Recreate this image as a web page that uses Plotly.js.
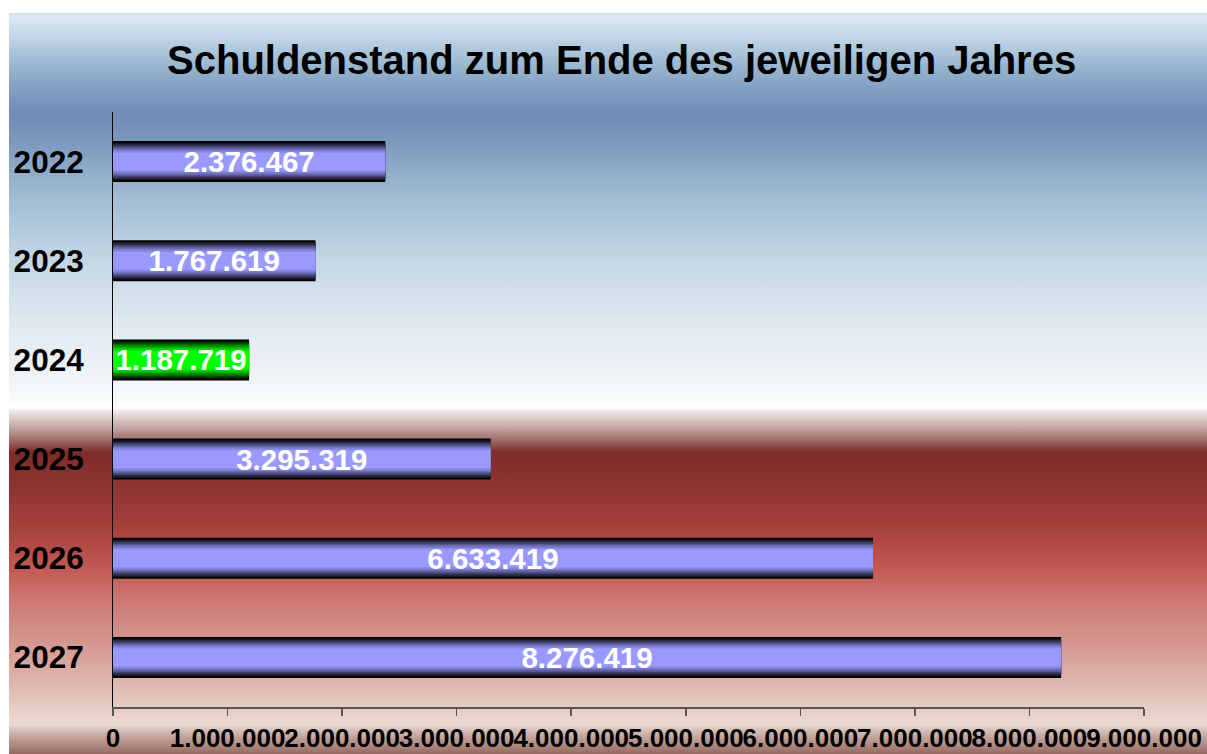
<!DOCTYPE html>
<html>
<head>
<meta charset="utf-8">
<script src="https://cdn.plot.ly/plotly-3.0.1.min.js"></script>
<style>
  html, body { margin: 0; padding: 0; background: #ffffff; }
  #bg {
    position: absolute; left: 9px; top: 13px; width: 1198px; height: 741px;
    background: linear-gradient(to bottom,
      #cddcea 0px, #dde9f5 3px, #bdd2e3 27px, #93b2cc 57px, #7d9abf 82px,
      #728bb6 102px, #7b98bd 127px, #a2bed4 187px, #c4d6e4 247px,
      #dde8ef 307px, #edf2f6 357px, #f8fafb 387px, #ffffff 395px,
      #f3eded 397px, #dccbc9 405px, #c2a4a1 415px, #a77472 425px,
      #8f4e4b 433px, #7e2c29 439px, #8f3632 477px, #a8423e 517px,
      #c25a55 557px, #cd7872 587px, #d4948e 627px, #deb4ab 667px,
      #e7cfc7 697px, #ecdbd3 712px, #dccac2 715px, #c0a097 725px, #966b63 741px);
  }
  #chart { position: absolute; left: 0; top: 0; width: 1207px; height: 754px; }
</style>
</head>
<body>
<div id="bg"></div>
<div id="chart"></div>
<script>
// ---- data ----
const years = ['2022', '2023', '2024', '2025', '2026', '2027'];
const debt = [2376467, 1767619, 1187719, 3295319, 6633419, 8276419];
const highlightYear = '2024';
const xTickValues = [0, 1000000, 2000000, 3000000, 4000000, 5000000, 6000000, 7000000, 8000000, 9000000];
const chartTitle = 'Schuldenstand zum Ende des jeweiligen Jahres';

// ---- styling ----
const FONT = 'Liberation Sans, Arial, sans-serif';
const baseBlue = [153, 153, 255];
const baseGreen = [0, 255, 0];
const categoryPx = 595 / years.length;
// gradient layers: [half thickness px, brightness fraction]
const layers = [
  [20.5, 0.0], [18.8, 0.14], [17.4, 0.28], [16.0, 0.42], [14.6, 0.56],
  [13.2, 0.69], [11.8, 0.81], [10.3, 0.91], [8.8, 1.0]
];

function fmt(v) {
  return String(v).replace(/\B(?=(\d{3})+(?!\d))/g, '.');
}
function mix(base, f) {
  return 'rgb(' + base.map(c => Math.round(c * f)).join(',') + ')';
}

const traces = layers.map((L, i) => {
  const last = i === layers.length - 1;
  const t = {
    type: 'bar',
    orientation: 'h',
    y: years,
    x: debt,
    width: (2 * L[0]) / categoryPx,
    marker: {
      color: years.map(y => mix(y === highlightYear ? baseGreen : baseBlue, L[1])),
      line: { width: 0 }
    },
    hoverinfo: 'skip',
    showlegend: false
  };
  if (last) {
    t.text = debt.map(fmt);
    t.textposition = 'inside';
    t.insidetextanchor = 'middle';
    t.constraintext = 'none';
    t.cliponaxis = false;
    t.textfont = { family: FONT, size: 29.5, color: '#ffffff', weight: 'bold' };
  } else {
    t.textposition = 'none';
  }
  return t;
});

const layout = {
  width: 1207,
  height: 754,
  paper_bgcolor: 'rgba(0,0,0,0)',
  plot_bgcolor: 'rgba(0,0,0,0)',
  separators: ',.',
  barmode: 'overlay',
  margin: { l: 113, r: 63, t: 112, b: 47, pad: 0 },
  font: { family: FONT, color: '#000000' },
  title: {
    text: '<b>' + chartTitle + '</b>',
    font: { family: FONT, size: 40, color: '#000000' },
    x: 0.515, xanchor: 'center',
    y: 0.921, yanchor: 'middle'
  },
  xaxis: {
    range: [0, 9000000],
    tickvals: xTickValues,
    ticktext: xTickValues.map(fmt),
    tickangle: 0,
    ticks: 'outside',
    ticklen: 7,
    tickwidth: 1.5,
    tickcolor: '#555555',
    showline: true,
    linecolor: '#555555',
    linewidth: 1.5,
    showgrid: false,
    zeroline: false,
    tickfont: { family: FONT, size: 26, color: '#000000', weight: 'bold' },
    fixedrange: true
  },
  yaxis: {
    type: 'category',
    categoryorder: 'array',
    categoryarray: years,
    autorange: 'reversed',
    showline: true,
    linecolor: '#000000',
    linewidth: 1,
    ticks: '',
    showgrid: false,
    zeroline: false,
    ticklabelstandoff: 22,
    tickfont: { family: FONT, size: 31.5, color: '#000000', weight: 'bold' },
    fixedrange: true
  }
};

Plotly.newPlot('chart', traces, layout, { displayModeBar: false, staticPlot: true });
</script>
</body>
</html>
